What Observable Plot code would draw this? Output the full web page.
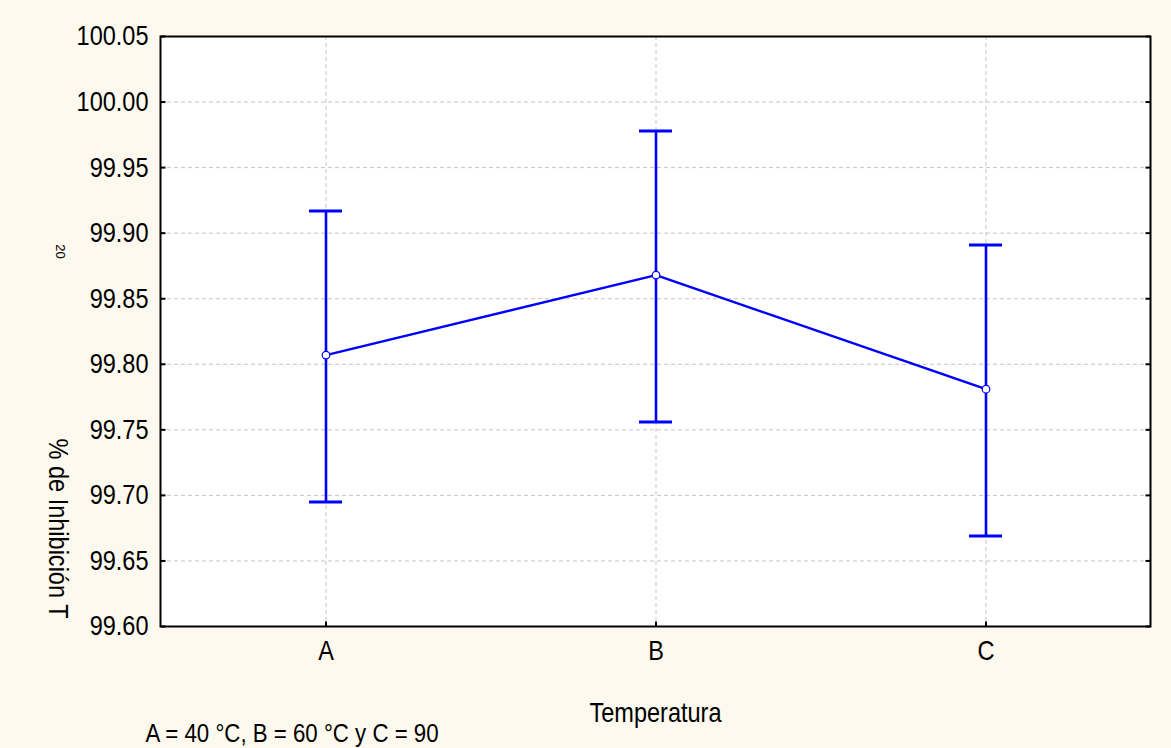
<!DOCTYPE html>
<html><head><meta charset="utf-8">
<script src="https://cdn.jsdelivr.net/npm/d3@7"></script>
<script src="https://cdn.jsdelivr.net/npm/@observablehq/plot@0.6"></script>
<style>html,body{margin:0;padding:0;background:#fdf9ee;}</style>
</head><body><div id="chart"></div>
<script>
const categories = ["A", "B", "C"];
const means = [99.807, 99.868, 99.781];
const lower = [99.695, 99.756, 99.669];
const upper = [99.917, 99.978, 99.891];
const yTicks = [99.60, 99.65, 99.70, 99.75, 99.80, 99.85, 99.90, 99.95, 100.00, 100.05];
const yLabel = "% de Inhibición T";
const ySub = "20";
const xLabel = "Temperatura";
const note = "A = 40 °C, B = 60 °C y C = 90";

const data = categories.map((c, i) => ({cat: c, mean: means[i], lo: lower[i], hi: upper[i]}));
const blue = "#0000ff";
const font = "'Liberation Sans', Arial, sans-serif";
const narrow = 0.84;

const symRight = {draw(ctx, size) { const r = Math.sqrt(size / Math.PI); ctx.moveTo(0, 0); ctx.lineTo(r, 0); }};
const symLeft = {draw(ctx, size) { const r = Math.sqrt(size / Math.PI); ctx.moveTo(0, 0); ctx.lineTo(-r, 0); }};
const symUp = {draw(ctx, size) { const r = Math.sqrt(size / Math.PI); ctx.moveTo(0, 0); ctx.lineTo(0, -r); }};

const chart = Plot.plot({
  width: 1171,
  height: 748,
  marginLeft: 160,
  marginRight: 21,
  marginTop: 36,
  marginBottom: 122,
  style: {background: "#fdf9ee", fontFamily: font, fontSize: "28px", color: "#000"},
  x: {type: "band", domain: categories, paddingInner: 0.9, paddingOuter: 0.45, label: null},
  y: {domain: [99.60, 100.05], label: null},
  marks: [
    Plot.frame({fill: "white", stroke: null}),
    Plot.gridY(yTicks, {stroke: "#c4c4c4", strokeOpacity: 1, strokeDasharray: "4,3"}),
    Plot.gridX(categories, {stroke: "#c4c4c4", strokeOpacity: 1, strokeDasharray: "4,3"}),
    Plot.ruleX(data, {x: "cat", y1: "lo", y2: "hi", stroke: blue, strokeWidth: 2.6}),
    Plot.tickY(data, {x: "cat", y: "hi", stroke: blue, strokeWidth: 3}),
    Plot.tickY(data, {x: "cat", y: "lo", stroke: blue, strokeWidth: 3}),
    Plot.line(data, {x: "cat", y: "mean", stroke: blue, strokeWidth: 2.5}),
    Plot.dot(data, {x: "cat", y: "mean", r: 3.8, fill: "white", stroke: blue, strokeWidth: 1.2}),
    Plot.frame({stroke: "black", strokeWidth: 2}),
    Plot.dot(yTicks, {y: d => d, frameAnchor: "left", symbol: symRight, r: 5, stroke: "black", strokeWidth: 2}),
    Plot.dot(yTicks, {y: d => d, frameAnchor: "right", symbol: symLeft, r: 5, stroke: "black", strokeWidth: 2}),
    Plot.dot(categories, {x: d => d, frameAnchor: "bottom", symbol: symUp, r: 5, stroke: "black", strokeWidth: 2}),
    Plot.axisY(yTicks, {tickSize: 0, tickPadding: 12, tickFormat: d => d.toFixed(2), fontSize: 28, label: null}),
    Plot.axisX({tickSize: 0, tickPadding: 14, fontSize: 28, label: null}),
    Plot.text([yLabel], {text: d => d, frameAnchor: "bottom-left", dx: -103, dy: -98, rotate: 90, textAnchor: "middle", lineAnchor: "middle", fontSize: 28, fill: "black"}),
    Plot.text([ySub], {text: d => d, frameAnchor: "top-left", dx: -100, dy: 215, rotate: 90, textAnchor: "middle", lineAnchor: "middle", fontSize: 13, fill: "black"}),
    Plot.text([xLabel], {text: d => d, frameAnchor: "bottom", dy: 87, textAnchor: "middle", lineAnchor: "middle", fontSize: 28, fill: "black"}),
    Plot.text([note], {text: d => d, frameAnchor: "bottom-left", dx: -15, dy: 107, textAnchor: "start", lineAnchor: "middle", fontSize: 26.5, fill: "black"})
  ]
});

document.getElementById("chart").appendChild(chart);

// Narrow the glyphs (Arial Narrow look) by compressing each text's advance length
d3.select(chart).selectAll("text").each(function() {
  if (this.textContent === ySub) return;
  const w = this.getComputedTextLength();
  if (w > 0) {
    this.setAttribute("textLength", (w * narrow).toFixed(2));
    this.setAttribute("lengthAdjust", "spacingAndGlyphs");
  }
});
</script>
</body></html>
